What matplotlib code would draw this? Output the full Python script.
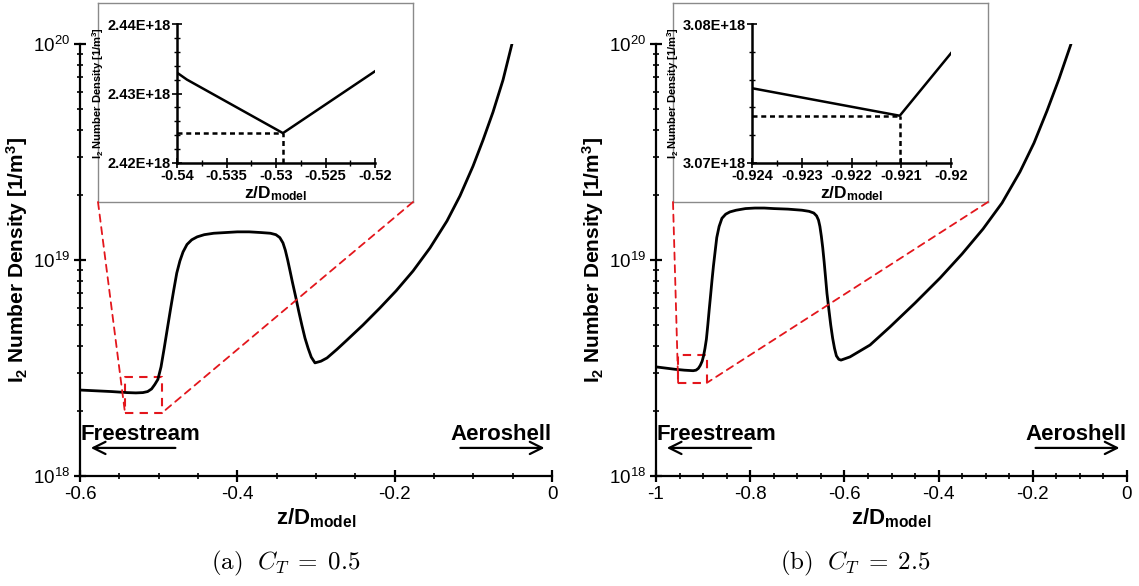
import matplotlib
matplotlib.use('Agg')
import matplotlib.pyplot as plt
import numpy as np
from matplotlib.patches import ConnectionPatch
from matplotlib.ticker import (MultipleLocator, NullFormatter, LogLocator)

plt.rcParams['font.family'] = ['Liberation Sans', 'DejaVu Sans']
plt.rcParams['mathtext.fontset'] = 'custom'
plt.rcParams['mathtext.rm'] = 'Liberation Sans'
plt.rcParams['mathtext.it'] = 'Liberation Sans:italic'
plt.rcParams['mathtext.bf'] = 'Liberation Sans:bold'
plt.rcParams['axes.unicode_minus'] = False

# ---------------- data ----------------
# (a) C_T = 0.5 : z/D_model vs I2 number density [1e18 1/m^3]
z_a = [-0.600, -0.580, -0.560, -0.540, -0.529, -0.520, -0.514, -0.509, -0.505, -0.501,
       -0.497, -0.493, -0.489, -0.485, -0.481, -0.477, -0.473, -0.469, -0.464, -0.458,
       -0.451, -0.442, -0.430, -0.415, -0.400, -0.385, -0.370, -0.358, -0.351, -0.346,
       -0.342, -0.339, -0.336, -0.333, -0.330, -0.326, -0.322, -0.318, -0.314, -0.310,
       -0.306, -0.3013, -0.2937, -0.2860, -0.2733, -0.2606, -0.2403, -0.2187, -0.1983,
       -0.1767, -0.1551, -0.1335, -0.1170, -0.1004, -0.0877, -0.0750, -0.0623, -0.0509]
n_a_e18 = [2.50, 2.48, 2.46, 2.433, 2.425, 2.433, 2.46, 2.53, 2.65, 2.8,
           3.2, 3.9, 4.8, 5.9, 7.2, 8.7, 9.9, 10.9, 11.8, 12.4,
           12.8, 13.1, 13.3, 13.4, 13.5, 13.5, 13.4, 13.3, 13.1, 12.7,
           12.0, 11.1, 10.0, 8.9, 7.9, 6.8, 5.8, 5.0, 4.35, 3.9,
           3.55, 3.34, 3.40, 3.52, 3.86, 4.26, 5.00, 6.00, 7.19,
           8.89, 11.37, 15.16, 19.8, 27.2, 35.9, 48.4, 68.1, 100]

# (b) C_T = 2.5
z_b = [-1.000, -0.980, -0.960, -0.940, -0.924, -0.921, -0.915, -0.910, -0.906, -0.902,
       -0.899, -0.896, -0.893, -0.890, -0.887, -0.884, -0.881, -0.878, -0.875, -0.871,
       -0.866, -0.860, -0.852, -0.843, -0.830, -0.810, -0.790, -0.770, -0.750, -0.720,
       -0.690, -0.675, -0.665, -0.659, -0.655, -0.652, -0.649, -0.646, -0.643, -0.640,
       -0.637, -0.633, -0.629, -0.625, -0.621, -0.617, -0.612, -0.6072, -0.5881, -0.5456,
       -0.5032, -0.4501, -0.3970, -0.3503, -0.3057, -0.2654, -0.2272, -0.1975, -0.1699,
       -0.1444, -0.1189]
n_b_e18 = [3.20, 3.16, 3.12, 3.09, 3.075, 3.073, 3.09, 3.15, 3.25, 3.4,
           3.6, 3.9, 4.3, 5.0, 5.9, 6.9, 8.1, 9.4, 10.7, 12.7,
           14.3, 15.6, 16.3, 16.7, 17.0, 17.3, 17.4, 17.4, 17.3, 17.2,
           17.0, 16.8, 16.5, 16.0, 15.3, 14.3, 12.9, 11.4, 9.8, 8.3,
           7.0, 5.9, 5.0, 4.35, 3.9, 3.6, 3.47, 3.44, 3.56, 4.04,
           4.90, 6.32, 8.25, 10.66, 13.92, 18.36, 25.6, 34.8, 49.0,
           68.9, 100]

# inset data
inset_z_a = [-0.54, -0.539, -0.5293, -0.52]
inset_n_a = [2.4330e18, 2.4320e18, 2.4243e18, 2.4332e18]
inset_min_a = (-0.5293, 2.4243e18)
inset_z_b = [-0.924, -0.92103, -0.92]
inset_n_b = [3.07538e18, 3.0734e18, 3.0779e18]
inset_min_b = (-0.92103, 3.0734e18)

# zoom boxes drawn on the main axes (z0, z1, n0, n1)
zoom_box_a = (-0.5428, -0.4958, 1.96e18, 2.87e18)
zoom_box_b = (-0.953, -0.892, 2.70e18, 3.63e18)

# ticks
main_xticks_a = [-0.6, -0.4, -0.2, 0]
main_xticks_b = [-1, -0.8, -0.6, -0.4, -0.2, 0]
inset_xticks_a = [-0.54, -0.535, -0.53, -0.525, -0.52]
inset_yticks_a = [2.42e18, 2.43e18, 2.44e18]
inset_xticks_b = [-0.924, -0.923, -0.922, -0.921, -0.92]
inset_yticks_b = [3.07e18, 3.08e18]

captions = [r'$\mathrm{(a)}\ \ C_T\;=\;0.5$', r'$\mathrm{(b)}\ \ C_T\;=\;2.5$']

# ---------------- figure ----------------
W, H = 1139, 586
fig = plt.figure(figsize=(W / 100, H / 100), dpi=100)
fig.patch.set_facecolor('white')


def fr(x0, y0, x1, y1):
    """pixel box -> figure fraction rect"""
    return [x0 / W, 1 - y1 / H, (x1 - x0) / W, (y1 - y0) / H]


def panel(main_px, frame_px, inset_px, z, n_e18, xticks, xminor, zbox,
          iz, inn, imin, ixticks, iyticks, ixminor, iyminor, caption, cap_x):
    ax = fig.add_axes(fr(*main_px))
    n = np.array(n_e18) * 1e18
    ax.plot(z, n, color='black', lw=2.0, solid_capstyle='round',
            solid_joinstyle='round', zorder=3)
    ax.set_yscale('log')
    ax.set_ylim(1e18, 1e20)
    ax.set_xlim(xticks[0], xticks[-1])
    ax.set_xticks(xticks, labels=['%g' % v for v in xticks])
    ax.xaxis.set_minor_locator(MultipleLocator(xminor))
    ax.yaxis.set_major_locator(LogLocator(base=10, numticks=5))
    ax.yaxis.set_minor_locator(LogLocator(base=10, subs=np.arange(2, 10), numticks=20))
    ax.yaxis.set_minor_formatter(NullFormatter())
    for s in ['top', 'right']:
        ax.spines[s].set_visible(False)
    for s in ['left', 'bottom']:
        ax.spines[s].set_linewidth(1.6)
    ax.tick_params(which='major', direction='inout', length=9, width=1.6,
                   labelsize=13.5, pad=3)
    ax.tick_params(which='minor', direction='inout', length=5, width=1.2)
    ax.set_xlabel(r'z/D$_\mathbf{model}$', fontsize=16, fontweight='bold', labelpad=2)
    ax.set_ylabel(r'I$_\mathbf{2}$ Number Density [1/m$^\mathbf{3}$]',
                  fontsize=15, fontweight='bold', labelpad=2)

    # direction annotations
    ax.text(0.0, 0.083, 'Freestream', transform=ax.transAxes, fontsize=16,
            fontweight='bold', ha='left', va='baseline')
    ax.annotate('', xy=(0.017, 0.065), xytext=(0.208, 0.065), xycoords='axes fraction',
                arrowprops=dict(arrowstyle='->', lw=1.6, color='black',
                                mutation_scale=22))
    ax.text(1.0, 0.083, 'Aeroshell', transform=ax.transAxes, fontsize=16,
            fontweight='bold', ha='right', va='baseline')
    ax.annotate('', xy=(0.99, 0.065), xytext=(0.80, 0.065), xycoords='axes fraction',
                arrowprops=dict(arrowstyle='->', lw=1.6, color='black',
                                mutation_scale=22))

    # red zoom box
    x0, x1, y0, y1 = zbox
    ax.plot([x0, x1, x1, x0, x0], [y0, y0, y1, y1, y0], color='#e3161c',
            lw=1.5, ls=(0, (4, 3)), zorder=2)

    # inset frame
    frm = fig.add_axes(fr(*frame_px))
    frm.set_xticks([])
    frm.set_yticks([])
    frm.set_facecolor('white')
    for s in frm.spines.values():
        s.set_color('#8a8a8a')
        s.set_linewidth(1.0)

    # inset axes
    ins = fig.add_axes(fr(*inset_px))
    ins.patch.set_alpha(0)
    ins.plot(iz, inn, color='black', lw=1.8, zorder=3)
    ins.set_xlim(ixticks[0], ixticks[-1])
    ins.set_ylim(iyticks[0], iyticks[-1])
    mz, mn = imin
    ins.plot([ixticks[0], mz], [mn, mn], color='black', lw=1.8, ls=(0, (2, 1.5)))
    ins.plot([mz, mz], [iyticks[0], mn], color='black', lw=1.8, ls=(0, (2, 1.5)))
    ins.set_xticks(ixticks, labels=['%g' % v for v in ixticks],
                   fontsize=10.5, fontweight='bold')
    ins.set_yticks(iyticks, labels=['%.2E' % v for v in iyticks],
                   fontsize=10.5, fontweight='bold')
    ins.xaxis.set_minor_locator(MultipleLocator(ixminor))
    ins.yaxis.set_minor_locator(MultipleLocator(iyminor))
    for s in ['top', 'right']:
        ins.spines[s].set_visible(False)
    for s in ['left', 'bottom']:
        ins.spines[s].set_linewidth(1.8)
    ins.tick_params(which='major', direction='inout', length=7, width=1.2, pad=1)
    ins.tick_params(which='minor', direction='inout', length=5, width=1.0)
    ins.set_xlabel(r'z/D$_\mathbf{model}$', fontsize=12.5, fontweight='bold', labelpad=1)
    ins.set_ylabel(r'I$_\mathbf{2}$ Number Density [1/m$^\mathbf{3}$]',
                   fontsize=8, fontweight='bold', labelpad=1)

    # connecting dashed lines
    for fx, bx in [(0, x0), (1, x1)]:
        con = ConnectionPatch(xyA=(fx, 0), coordsA=frm.transAxes,
                              xyB=(bx, y0), coordsB=ax.transData,
                              color='#e3161c', lw=1.3, ls=(0, (4, 3)))
        fig.add_artist(con)

    fig.text(cap_x / W, 1 - 563 / H, caption, fontsize=18, ha='center',
             va='center', math_fontfamily='cm')


panel((80, 44, 552, 476), (98, 3, 413, 202), (177, 24, 375, 163),
      z_a, n_a_e18, main_xticks_a, 0.05, zoom_box_a,
      inset_z_a, inset_n_a, inset_min_a, inset_xticks_a, inset_yticks_a,
      0.0025, 0.002e18, captions[0], 286)

panel((656, 44, 1127, 476), (673, 3, 988, 202), (752, 24, 951, 163),
      z_b, n_b_e18, main_xticks_b, 0.05, zoom_box_b,
      inset_z_b, inset_n_b, inset_min_b, inset_xticks_b, inset_yticks_b,
      0.0005, 0.002e18, captions[1], 855)

fig.savefig('out.png', dpi=100, facecolor='white')
